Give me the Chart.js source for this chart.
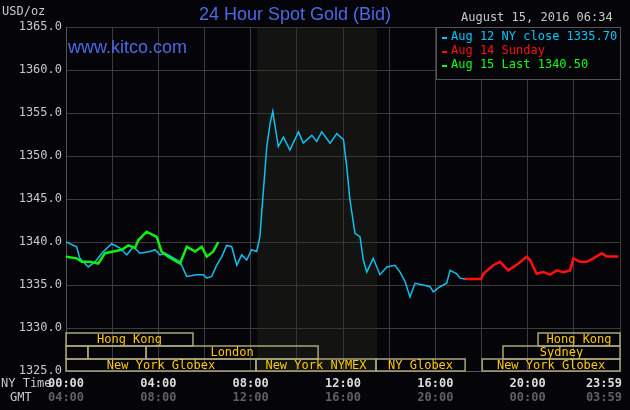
<!DOCTYPE html>
<html><head><meta charset="utf-8">
<script src="https://cdn.jsdelivr.net/npm/chart.js@4"></script>
<style>html,body{margin:0;background:#050408;}#c{display:block}</style>
</head><body><canvas id="c" width="630" height="410"></canvas>
<script>
const yTicks=[1325,1330,1335,1340,1345,1350,1355,1360,1365];
const nyTimeLabels=['00:00','04:00','08:00','12:00','16:00','20:00','23:59'];
const gmtLabels=['04:00','08:00','12:00','16:00','20:00','00:00','03:59'];
const blueHours=[0,0.46,0.6,0.97,1.26,1.62,1.98,2.34,2.63,2.92,3.2,3.64,3.86,4.07,4.29,4.94,5.23,5.66,5.94,6.1,6.31,6.53,6.75,6.96,7.18,7.4,7.61,7.83,8.04,8.26,8.4,8.52,8.7,8.84,8.96,9.06,9.2,9.42,9.7,10.07,10.28,10.65,10.86,11.08,11.44,11.73,12.02,12.16,12.3,12.52,12.74,12.88,13.03,13.31,13.6,13.9,14.25,14.47,14.69,14.9,15.12,15.48,15.77,15.91,16.2,16.49,16.64,16.93,17.07,17.29];
const blueValues=[1340.0,1339.45,1338.1,1337.1,1337.7,1338.9,1339.8,1339.3,1338.5,1339.45,1338.7,1338.9,1339.1,1338.5,1338.7,1337.7,1336.0,1336.2,1336.2,1335.8,1336.0,1337.3,1338.3,1339.6,1339.45,1337.3,1338.5,1337.9,1339.1,1338.9,1340.6,1344.9,1351.1,1353.8,1355.2,1353.4,1351.1,1352.2,1350.7,1352.8,1351.5,1352.4,1351.7,1352.8,1351.5,1352.6,1351.9,1348.8,1344.9,1341.0,1340.6,1337.9,1336.5,1338.1,1336.2,1337.1,1337.3,1336.5,1335.4,1333.6,1335.2,1335.0,1334.8,1334.2,1334.8,1335.2,1336.7,1336.3,1335.8,1335.7];
const redHours=[17.29,17.99,18.08,18.51,18.8,19.16,19.6,19.96,20.1,20.39,20.68,20.97,21.26,21.54,21.84,21.98,22.27,22.56,22.85,23.21,23.42,23.93];
const redValues=[1335.7,1335.7,1336.3,1337.3,1337.7,1336.7,1337.5,1338.3,1337.9,1336.3,1336.5,1336.2,1336.7,1336.5,1336.7,1338.1,1337.7,1337.7,1338.1,1338.7,1338.3,1338.3];
const greenHours=[0,0.46,0.68,1.04,1.4,1.69,2.05,2.41,2.7,2.99,3.13,3.49,3.93,4.14,4.43,4.8,4.94,5.23,5.59,5.88,6.1,6.38,6.6];
const greenValues=[1338.3,1338.1,1337.7,1337.7,1337.5,1338.7,1338.9,1339.1,1339.6,1339.3,1340.2,1341.2,1340.6,1338.9,1338.3,1337.7,1337.5,1339.45,1338.9,1339.45,1338.3,1338.9,1340.0];
const legendTexts=['Aug 12 NY close 1335.70','Aug 14 Sunday','Aug 15 Last 1340.50'];
const sessions=[
 {row:0,from:0,to:5.5,label:'Hong Kong'},{row:0,from:20.45,to:24,label:'Hong Kong'},
 {row:1,from:0,to:0.95,label:''},{row:1,from:0.95,to:3.47,label:''},{row:1,from:3.47,to:10.92,label:'London'},{row:1,from:18.93,to:24,label:'Sydney'},
 {row:2,from:0,to:8.23,label:'New York Globex'},{row:2,from:8.23,to:13.43,label:'New York NYMEX'},{row:2,from:13.43,to:17.29,label:'NY Globex'},{row:2,from:18.03,to:24,label:'New York Globex'}
];
const mono='"DejaVu Sans Mono", monospace';
const pts=(h,v)=>h.map((x,i)=>({x,y:v[i]}));
const deco={id:'deco',
 beforeDatasetsDraw(ch){const {ctx,chartArea:a,scales:{x,y}}=ch;
  ctx.save();ctx.fillStyle='rgba(40,46,36,0.4)';
  ctx.fillRect(x.getPixelForValue(8.28),a.top,x.getPixelForValue(13.47)-x.getPixelForValue(8.28),a.bottom-a.top);
  const rowTop=[333,346,359],rowH=[13,13,12];
  ctx.strokeStyle='#a8a67c';ctx.lineWidth=1.5;ctx.font='12px '+mono;ctx.textAlign='center';ctx.textBaseline='middle';
  sessions.forEach(s=>{const x1=x.getPixelForValue(s.from),x2=x.getPixelForValue(s.to);
    ctx.strokeRect(x1,rowTop[s.row],x2-x1,rowH[s.row]);
    if(s.label){ctx.fillStyle='#ffc800';ctx.fillText(s.label,(x1+x2)/2,rowTop[s.row]+rowH[s.row]/2+0.5);}});
  ctx.restore();},
 afterDraw(ch){const {ctx,chartArea:a,scales:{x}}=ch;ctx.save();
  ctx.font='18px "Liberation Sans", Arial';ctx.fillStyle='#4a6ae8';ctx.textAlign='center';ctx.textBaseline='middle';
  ctx.fillText('24 Hour Spot Gold (Bid)',295,15);
  ctx.textAlign='left';ctx.fillText('www.kitco.com',68,48);
  ctx.font='12px '+mono;ctx.fillStyle='#c8c8c8';ctx.fillText('USD/oz',2,12);
  ctx.fillText('August 15, 2016 06:34',461,18);
  ctx.fillText('NY Time',1,384);ctx.fillText('GMT',10,398);
  ctx.fillStyle='#050408';ctx.fillRect(436,28,184,52);
  ctx.strokeStyle='#555';ctx.lineWidth=1;ctx.strokeRect(436.5,27.5,184,52);
  const cols=['#00c8ff','#ff1010','#10ff10'];
  legendTexts.forEach((t,i)=>{ctx.fillStyle=cols[i];ctx.fillRect(442,37+i*14,5,2);ctx.font='12px '+mono;ctx.fillText(t,451,37+i*14);});
  ctx.font='bold 12px '+mono;
  const hs=[0,4,8,12,16,20,24];
  hs.forEach((h,i)=>{const px=x.getPixelForValue(h);ctx.textAlign=i===6?'right':'center';
   const xx=i===6?a.right+2:px;
   ctx.fillStyle='#dcdcdc';ctx.fillText(nyTimeLabels[i],xx,384);
   ctx.fillStyle='#606060';ctx.fillText(gmtLabels[i],xx,398);});
  ctx.restore();}
};
new Chart(document.getElementById('c'),{type:'line',
 data:{datasets:[
  {data:pts(greenHours,greenValues),borderColor:'#10f010',borderWidth:2.5,pointRadius:0,tension:0},
  {data:pts(blueHours,blueValues),borderColor:'#10c0f0',borderWidth:1.5,pointRadius:0,tension:0},
  {data:pts(redHours,redValues),borderColor:'#ff1010',borderWidth:2.5,pointRadius:0,tension:0}]},
 options:{responsive:false,animation:false,
  layout:{padding:{top:27,right:10,bottom:39,left:0}},
  plugins:{legend:{display:false},tooltip:{enabled:false}},
  scales:{
   x:{type:'linear',min:0,max:24,ticks:{display:false,stepSize:2},grid:{color:'#3c3c3c',lineWidth:1,drawTicks:false},border:{color:'#555'}},
   y:{min:1325,max:1365,afterBuildTicks:s=>{s.ticks=yTicks.map(v=>({value:v}));},afterFit:s=>{s.width=66;},
      ticks:{color:'#c8c8c8',font:{family:'DejaVu Sans Mono',size:12},padding:4,callback:v=>v.toFixed(1)},
      grid:{color:'#3c3c3c',drawTicks:false},border:{color:'#555'}}}},
 plugins:[deco]});
</script></body></html>
